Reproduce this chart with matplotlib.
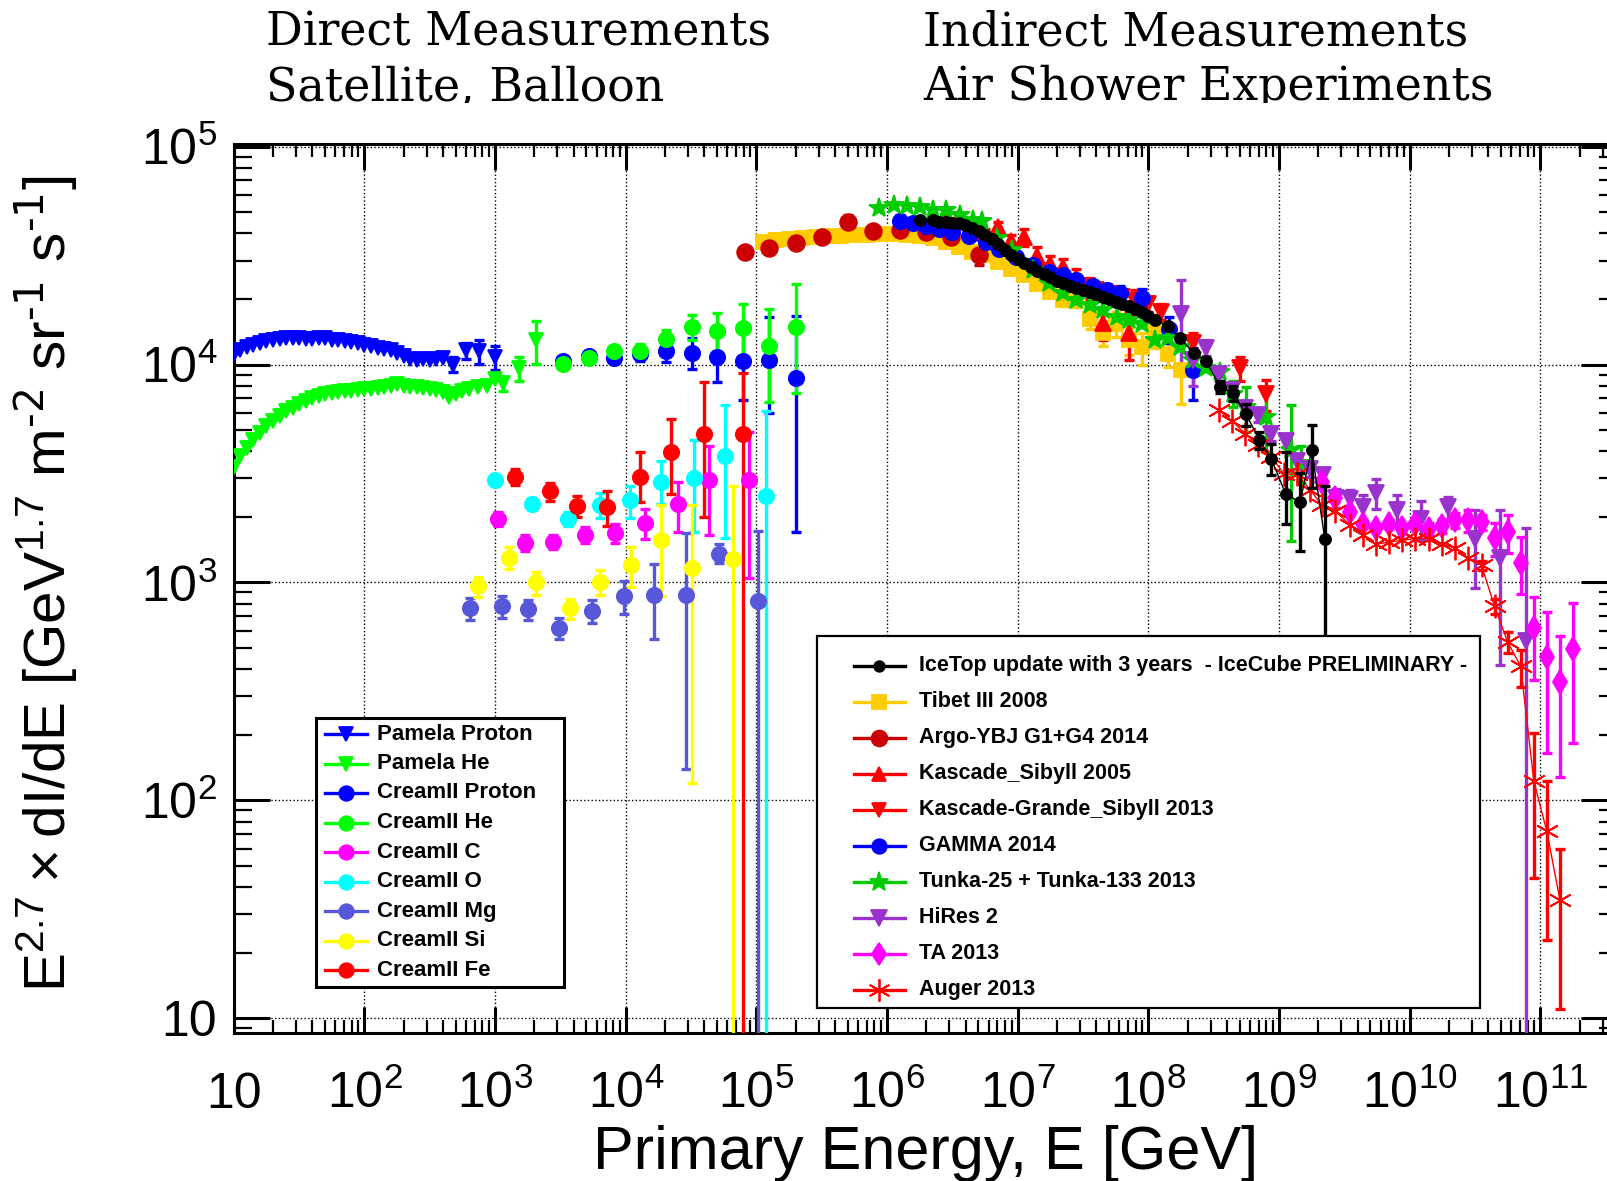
import numpy as np
import matplotlib
matplotlib.use("Agg")
import matplotlib.pyplot as plt
from matplotlib import transforms
from matplotlib.lines import Line2D
from matplotlib.patches import Rectangle
from matplotlib.ticker import FixedLocator, LogLocator, NullFormatter

W, H = 1608, 1181
plt.rcParams['font.family'] = ['Liberation Sans', 'DejaVu Sans']
plt.rcParams['mathtext.default'] = 'regular'

# ---------------- data: log10(E/GeV) and E^2.7 dI/dE ----------------
# direct measurements
pamela_p_lgE = [1.0, 1.05, 1.1, 1.15, 1.2, 1.25, 1.3, 1.35, 1.4, 1.45, 1.5, 1.55, 1.6, 1.65,
                1.7, 1.75, 1.8, 1.85, 1.9, 1.95, 2.0, 2.05, 2.1, 2.15, 2.2, 2.25, 2.3, 2.35,
                2.4, 2.45, 2.5, 2.55, 2.6, 2.68, 2.78, 2.88, 3.0]
pamela_p = [11200, 11600, 12000, 12300, 12600, 12800, 13000, 13100, 13200, 13200, 13200, 13100,
            13100, 13200, 13300, 13000, 12900, 12800, 12700, 12500, 12300, 12100, 11900, 11800,
            11600, 11300, 11000, 10600, 10500, 10600, 10500, 10600, 10700, 10000, 11600, 11500, 10800]
pamela_p_err = [800, 1000, 1400, 1400]          # last points only

pamela_he_lgE = [1.0, 1.05, 1.1, 1.15, 1.2, 1.25, 1.3, 1.35, 1.4, 1.45, 1.5, 1.55, 1.6, 1.65,
                 1.7, 1.75, 1.8, 1.85, 1.9, 1.95, 2.0, 2.05, 2.1, 2.15, 2.2, 2.25, 2.3, 2.35,
                 2.4, 2.45, 2.5, 2.55, 2.6, 2.65, 2.7, 2.75, 2.8, 2.87, 2.94, 3.0, 3.06, 3.18, 3.31]
pamela_he = [3400, 3800, 4150, 4500, 4850, 5200, 5500, 5800, 6100, 6350, 6600, 6800, 7000, 7150,
             7300, 7400, 7500, 7550, 7600, 7650, 7700, 7750, 7800, 7850, 7950, 8100, 7950, 7900,
             7850, 7800, 7750, 7650, 7500, 7100, 7300, 7550, 7700, 7900, 8000, 8600, 8200, 9600, 13000]
pamela_he_err = [600, 1200, 2900]

cream_lgE = [3.52, 3.72, 3.91, 4.11, 4.31, 4.51, 4.70, 4.90, 5.10, 5.30]
cream_p = [10400, 10900, 10700, 11200, 11500, 11300, 10800, 10400, 10500, 8700]
cream_p_lo = [300, 400, 500, 800, 1200, 1800, 2500, 3500, 4500, 7000]
cream_p_hi = [300, 400, 500, 800, 1200, 2000, 3000, 4500, 6000, 8000]
cream_he = [10100, 10700, 11500, 11500, 13100, 14900, 14300, 14700, 12200, 14900]
cream_he_lo = [300, 400, 600, 900, 1300, 2000, 2800, 3800, 5500, 7500]
cream_he_hi = [300, 400, 600, 900, 1300, 2000, 3000, 4200, 5700, 8400]

cream_c_lgE = [3.02, 3.23, 3.44, 3.69, 3.92, 4.15, 4.40, 4.64, 4.94]
cream_c = [1960, 1520, 1540, 1660, 1680, 1880, 2300, 2950, 2950]
cream_c_lo = [150, 130, 120, 140, 170, 300, 600, 1300, 1900]
cream_c_hi = [150, 130, 120, 140, 170, 300, 600, 1300, 1950]

cream_o_lgE = [3.0, 3.28, 3.56, 3.80, 4.03, 4.27, 4.52, 4.76, 5.07]
cream_o = [2950, 2300, 1960, 2270, 2380, 2900, 3000, 3800, 2500]
cream_o_lo = [150, 150, 150, 300, 400, 600, 1300, 2200, 2499]
cream_o_hi = [150, 150, 150, 300, 400, 700, 1500, 2700, 3600]

cream_mg_lgE = [2.81, 3.05, 3.25, 3.49, 3.74, 3.99, 4.22, 4.46, 4.71, 5.01]
cream_mg = [760, 780, 755, 620, 740, 870, 880, 880, 1350, 820]
cream_mg_lo = [90, 90, 80, 70, 90, 150, 330, 740, 120, 819]
cream_mg_hi = [90, 90, 80, 70, 90, 150, 330, 800, 150, 900]

cream_si_lgE = [2.87, 3.11, 3.31, 3.57, 3.80, 4.04, 4.27, 4.51, 4.82]
cream_si = [960, 1300, 1000, 760, 1010, 1200, 1570, 1160, 1280]
cream_si_lo = [100, 150, 120, 80, 130, 250, 700, 1040, 1279]
cream_si_hi = [100, 150, 120, 80, 130, 250, 700, 1100, 1500]

cream_fe_lgE = [3.15, 3.42, 3.63, 3.86, 4.11, 4.35, 4.60, 4.90]
cream_fe = [3050, 2620, 2250, 2220, 3050, 3950, 4800, 4800]
cream_fe_lo = [250, 250, 250, 400, 700, 1400, 2800, 4799]
cream_fe_hi = [250, 250, 250, 400, 900, 1700, 3500, 4300]

# air shower experiments
tibet_lgE = [5.05, 5.15, 5.25, 5.35, 5.45, 5.55, 5.65, 5.75, 5.85, 5.95, 6.05, 6.15, 6.25, 6.35,
             6.45, 6.55, 6.65, 6.75, 6.85, 6.95, 7.05, 7.15, 7.25, 7.35, 7.45, 7.55, 7.65, 7.75,
             7.85, 7.95, 8.05, 8.15, 8.25]
tibet = [36500, 37200, 37800, 38200, 38500, 38800, 39000, 39200, 39500, 39600, 39600, 39400,
         39000, 38000, 36500, 34500, 33000, 31700, 29500, 27500, 25700, 23500, 21500, 19700,
         19500, 16100, 13900, 15400, 12900, 12000, 14400, 11200, 9400]
tibet_err = [1200, 1200, 1500, 1800, 2000, 1800, 2000, 2500, 1500, 2800]

argo_lgE = [4.91, 5.10, 5.30, 5.50, 5.70, 5.89, 6.10, 6.30, 6.49, 6.70]
argo = [33000, 34300, 36200, 38600, 45300, 41200, 41500, 40700, 38500, 31700]
argo_err = [1500, 1500, 1500, 1500, 3000, 1500, 1500, 1500, 1800, 3000]

kascade_lgE = [6.45, 6.55, 6.65, 6.75, 6.85, 6.95, 7.05, 7.15, 7.25, 7.35, 7.45, 7.55, 7.65, 7.85]
kascade = [46000, 47500, 43500, 40000, 42700, 37000, 38500, 31500, 29000, 28000, 25000, 22500,
           15500, 14000]
kascade_err = [1500, 1500, 2000, 2000, 2500, 2500, 3500, 3000, 2500, 2500, 2500, 2500, 2500, 3500]

kgrande_lgE = [7.2, 7.3, 7.4, 7.5, 7.6, 7.7, 7.8, 7.9, 8.0, 8.1, 8.34, 8.70, 8.90]
kgrande = [27000, 25500, 24000, 23000, 22000, 21000, 20500, 19500, 19000, 17500, 12500, 9600, 7300]
kgrande_err = [1000, 1000, 1000, 1000, 1200, 1200, 1500, 2500, 1500, 1500, 1500, 1200, 1200]

gamma_lgE = [6.10, 6.20, 6.30, 6.40, 6.50, 6.63, 6.76, 6.86, 6.99, 7.12, 7.24, 7.35, 7.45, 7.58,
             7.68, 7.78, 7.95, 8.16, 8.34]
gamma = [45700, 44500, 43000, 42000, 40500, 39000, 36500, 34000, 31000, 28500, 26600, 25700,
         24500, 23000, 22000, 21200, 20100, 14600, 9400]
gamma_err = [3000, 2000, 1500, 1500, 1500, 1500, 1500, 1500, 1500, 1500, 1200, 1200, 1200, 1200,
             1500, 1800, 2000, 2000, 2500]

tunka_lgE = [5.94, 6.05, 6.15, 6.25, 6.35, 6.45, 6.56, 6.66, 6.73, 6.84, 6.96, 7.12, 7.24, 7.35,
             7.45, 7.55, 7.65, 7.76, 7.85, 7.95, 8.05, 8.15, 8.24, 8.34, 8.44, 8.55, 8.65, 8.75,
             8.90, 9.09, 9.17]
tunka = [52500, 53800, 53200, 52800, 51300, 51000, 48400, 45900, 45700, 38000, 33400, 27100,
         23600, 21200, 19700, 18700, 17800, 16600, 16000, 15400, 12900, 13200, 12000, 10500, 9600,
         9250, 7360, 6400, 5750, 4050, 3550]
tunka_err = [1000, 1500, 1800, 2500, 700]        # last points only

icetop_lgE = [6.25, 6.35, 6.40, 6.45, 6.50, 6.55, 6.60, 6.65, 6.70, 6.75, 6.80, 6.85, 6.90, 6.95,
              7.00, 7.05, 7.10, 7.15, 7.20, 7.25, 7.30, 7.35, 7.40, 7.45, 7.50, 7.55, 7.60, 7.65,
              7.70, 7.75, 7.80, 7.85, 7.90, 7.95, 8.00, 8.05, 8.15, 8.24, 8.35, 8.44, 8.55, 8.65,
              8.75, 8.85, 8.94, 9.05, 9.16, 9.25, 9.35]
icetop = [45900, 46200, 45200, 45200, 44800, 44400, 43500, 42300, 40800, 39300, 37600, 35600,
          33600, 31900, 30600, 29300, 28100, 27000, 26000, 25100, 24300, 23600, 23000, 22500,
          22000, 21500, 21000, 20400, 19900, 19400, 18900, 18500, 18000, 17400, 16700, 16000,
          15100, 13200, 11300, 10400, 7900, 7400, 5900, 4500, 3700, 2560, 2330, 4070, 1590]
icetop_lo = [500, 600, 700, 400, 600, 700, 930, 1350, 1090]   # from 10^8.55 on
icetop_hi = [500, 600, 700, 400, 600, 1400, 860, 1230, 1170]

hires_lgE = [8.25, 8.34, 8.44, 8.54, 8.64, 8.74, 8.84, 8.94, 9.05, 9.14, 9.24, 9.34, 9.44, 9.54,
             9.64, 9.74, 9.90, 10.09, 10.29, 10.50, 10.69, 10.89]
hires = [17000, 10500, 11900, 9070, 7660, 6310, 5850, 4820, 4480, 3600, 3300, 3110, 2440, 2410,
         2210, 2580, 2160, 1960, 2210, 1590, 1290, 540]
hires_lo = [7000, 2500, 1000, 700, 500, 400, 400, 350, 300, 300, 250, 250, 250, 250, 300, 400,
            350, 400, 300, 650, 870, 539.9]
hires_hi = [7400, 2500, 1000, 700, 500, 400, 400, 350, 300, 300, 250, 250, 250, 250, 300, 400,
            350, 400, 250, 570, 870, 1240]

ta_lgE = [9.33, 9.43, 9.54, 9.64, 9.74, 9.84, 9.94, 10.04, 10.15, 10.25, 10.35, 10.45, 10.55,
          10.65, 10.75, 10.85, 10.95, 11.05, 11.15, 11.25]
ta = [2880, 2440, 2100, 1860, 1780, 1850, 1780, 1860, 1760, 1820, 1930, 1930, 1900, 1600, 1710,
      1230, 615, 455, 348, 493]
ta_lo = [100, 100, 90, 80, 80, 90, 90, 100, 120, 140, 160, 220, 150, 280, 350, 340, 260, 290,
         220, 310]
ta_hi = [100, 100, 90, 80, 80, 90, 90, 100, 120, 140, 160, 220, 150, 280, 320, 380, 240, 280,
         220, 310]

auger_lgE = [8.54, 8.64, 8.74, 8.84, 8.94, 9.04, 9.14, 9.24, 9.33, 9.43, 9.54, 9.64, 9.74, 9.84,
             9.94, 10.04, 10.15, 10.25, 10.35, 10.45, 10.55, 10.65, 10.75, 10.85, 10.95, 11.05, 11.15]
auger = [6170, 5520, 4820, 4270, 3780, 3140, 3140, 2650, 2260, 2130, 1840, 1650, 1500, 1530, 1560,
         1590, 1590, 1500, 1440, 1290, 1200, 776, 533, 412, 123, 72, 35]
auger_lo = [60, 60, 60, 80, 79, 49, 24]           # from 10^10.55 on
auger_hi = [60, 60, 60, 80, 81, 51, 25]

# ---------------- styles ----------------
ST = {
    'Pamela Proton': dict(color='#0000ff', marker='v', ms=10),
    'Pamela He': dict(color='#00ff00', marker='v', ms=10),
    'CreamII Proton': dict(color='#0000ff', marker='o', ms=11),
    'CreamII He': dict(color='#00ff00', marker='o', ms=11),
    'CreamII C': dict(color='#ff00ff', marker='o', ms=11),
    'CreamII O': dict(color='#00ffff', marker='o', ms=11),
    'CreamII Mg': dict(color='#5757d9', marker='o', ms=11),
    'CreamII Si': dict(color='#ffff00', marker='o', ms=11),
    'CreamII Fe': dict(color='#ff0000', marker='o', ms=11),
    'IceTop update with 3 years  - IceCube PRELIMINARY -': dict(color='#000000', marker='o', ms=8),
    'Tibet III 2008': dict(color='#ffcc00', marker='s', ms=10),
    'Argo-YBJ G1+G4 2014': dict(color='#cc0000', marker='o', ms=12),
    'Kascade_Sibyll 2005': dict(color='#ff0000', marker='^', ms=11),
    'Kascade-Grande_Sibyll 2013': dict(color='#ff0000', marker='v', ms=11),
    'GAMMA 2014': dict(color='#0000ff', marker='o', ms=11),
    'Tunka-25 + Tunka-133 2013': dict(color='#00cc00', marker='*', ms=15),
    'HiRes 2': dict(color='#9933cc', marker='v', ms=12),
    'TA 2013': dict(color='#ff00ff', marker='d', ms=12),
    'Auger 2013': dict(color='#ff0000', marker=(6, 2, 0), ms=17),
}
LEFT = list(ST)[:9]
RIGHT = list(ST)[9:]

fig = plt.figure(figsize=(W / 100, H / 100), dpi=100)
px = transforms.Affine2D().scale(1.0 / W, -1.0 / H).translate(0, 1) + fig.transFigure

ax = fig.add_axes([233.8 / W, 1 - 1032.5 / H, (1617 - 233.8) / W, (1032.5 - 143.6) / H])
ax.set_xscale('log')
ax.set_yscale('log')
ax.set_xlim(10, 10 ** 11.587)
ax.set_ylim(10 ** 0.935, 10 ** 5.0138)


def draw(name, lgE, flux, lo=None, hi=None, z=3, line=False):
    st = ST[name]
    E = np.power(10.0, np.asarray(lgE, float))
    y = np.asarray(flux, float)
    if lo is not None:
        hi = lo if hi is None else hi
        n = len(lo)
        ax.errorbar(E[-n:], y[-n:], yerr=[lo, hi], fmt='none', ecolor=st['color'],
                    elinewidth=2.4, capsize=3.5, capthick=2.4, zorder=z)
    ax.plot(E, y, ls='-' if line else 'none', lw=1.0, color=st['color'],
            marker=st['marker'], ms=st['ms'], mec=st['color'], mfc=st['color'],
            mew=1.3, zorder=z + 0.1)


draw('Pamela Proton', pamela_p_lgE, pamela_p, pamela_p_err)
draw('Pamela He', pamela_he_lgE, pamela_he, pamela_he_err)
draw('CreamII Proton', cream_lgE, cream_p, cream_p_lo, cream_p_hi)
draw('CreamII He', cream_lgE, cream_he, cream_he_lo, cream_he_hi)
draw('CreamII C', cream_c_lgE, cream_c, cream_c_lo, cream_c_hi)
draw('CreamII O', cream_o_lgE, cream_o, cream_o_lo, cream_o_hi)
draw('CreamII Mg', cream_mg_lgE, cream_mg, cream_mg_lo, cream_mg_hi)
draw('CreamII Si', cream_si_lgE, cream_si, cream_si_lo, cream_si_hi)
draw('CreamII Fe', cream_fe_lgE, cream_fe, cream_fe_lo, cream_fe_hi)

draw('Tibet III 2008', tibet_lgE, tibet, tibet_err)
draw('Argo-YBJ G1+G4 2014', argo_lgE, argo, argo_err)
draw('Kascade_Sibyll 2005', kascade_lgE, kascade, kascade_err)
draw('Kascade-Grande_Sibyll 2013', kgrande_lgE, kgrande, kgrande_err)
draw('GAMMA 2014', gamma_lgE, gamma, gamma_err)
draw('Tunka-25 + Tunka-133 2013', tunka_lgE, tunka, tunka_err)
draw('HiRes 2', hires_lgE, hires, hires_lo, hires_hi)
draw('TA 2013', ta_lgE, ta, ta_lo, ta_hi)
draw('Auger 2013', auger_lgE, auger, auger_lo, auger_hi, line=True)
draw('IceTop update with 3 years  - IceCube PRELIMINARY -', icetop_lgE, icetop,
     icetop_lo, icetop_hi, z=5, line=True)

# ---------------- axes styling (ROOT look) ----------------
for s in ax.spines.values():
    s.set_linewidth(2.2)
ax.grid(True, which='major', ls=':', color='black', lw=1.0)
ax.xaxis.set_major_locator(FixedLocator([10.0 ** k for k in range(1, 12)]))
ax.xaxis.set_minor_locator(LogLocator(base=10, subs=np.arange(2, 10), numticks=30))
ax.yaxis.set_major_locator(FixedLocator([10.0 ** k for k in range(1, 6)]))
ax.yaxis.set_minor_locator(LogLocator(base=10, subs=np.arange(2, 10), numticks=30))
ax.xaxis.set_minor_formatter(NullFormatter())
ax.yaxis.set_minor_formatter(NullFormatter())
xlabels = ['10'] + ['$10^{%d}$' % k for k in range(2, 12)]
ylabels = ['10'] + ['$10^{%d}$' % k for k in range(2, 6)]
ax.set_xticklabels(xlabels, va='baseline', fontsize=36)
ax.set_yticklabels(ylabels, fontsize=36)
ax.tick_params(axis='both', which='both', direction='in', top=True, right=True, color='black')
ax.tick_params(axis='x', which='major', length=19, width=2.2, pad=54)
ax.tick_params(axis='x', which='minor', length=9.5, width=1.6)
ax.tick_params(axis='y', which='major', length=26, width=2.2, pad=12)
ax.tick_params(axis='y', which='minor', length=13, width=1.6)

fig.text(926, 1169, 'Primary Energy, E [GeV]', transform=px, ha='center', va='baseline',
         fontsize=44)
fig.text(46, 584,
         r'E$^{2.7}\times$dI/dE [GeV$^{1.7}$ m$^{\text{-2}}$ sr$^{\text{-1}}$ s$^{\text{-1}}$]',
         transform=px, rotation=90, ha='center', va='center', fontsize=42)

# headline texts, cut off at the bottom like in the original
clip = transforms.TransformedBbox(transforms.Bbox.from_extents(0, 1 - 102.5 / H, 1, 1),
                                  fig.transFigure)
for x, y, s in [(266, 46, 'Direct Measurements'), (266, 100, 'Satellite, Balloon'),
                (923, 46, 'Indirect Measurements'), (923, 100, 'Air Shower Experiments')]:
    t = fig.text(x, y, s, transform=px, ha='left', va='baseline', fontsize=33,
                 family='DejaVu Serif')
    t.set_clip_box(clip)
    t.set_clip_on(True)


# ---------------- legends ----------------
def legend(names, box, row0, pitch, hx0, hx1, tx, fs, lw):
    x0, y0, x1, y1 = box
    fig.add_artist(Rectangle((x0, y0), x1 - x0, y1 - y0, transform=px, fill=False,
                             ec='black', lw=lw, zorder=10))
    for i, name in enumerate(names):
        st = ST[name]
        yy = row0 + i * pitch
        fig.add_artist(Line2D([hx0, hx1], [yy, yy], transform=px, color=st['color'], lw=2.4,
                              zorder=11))
        fig.add_artist(Line2D([(hx0 + hx1) / 2], [yy], transform=px, ls='none',
                              marker=st['marker'], ms=st['ms'] * 0.95, color=st['color'],
                              mew=1.3, zorder=12))
        fig.text(tx, yy, name, transform=px, ha='left', va='center', fontsize=fs,
                 fontweight='bold', zorder=12)


# white background behind legend boxes
for (x0, y0, x1, y1) in [(316, 718, 564, 987), (817, 636, 1480, 1008)]:
    fig.add_artist(Rectangle((x0, y0), x1 - x0, y1 - y0, transform=px, fc='white',
                             ec='none', zorder=9))
legend(LEFT, (316, 718, 564, 987), 734, 29.5, 325, 367, 377, 16, 2.2)
legend(RIGHT, (817, 636, 1480, 1008), 665.5, 36.0, 854, 905, 919, 15.5, 1.6)

fig.savefig('out.png', dpi=100)
